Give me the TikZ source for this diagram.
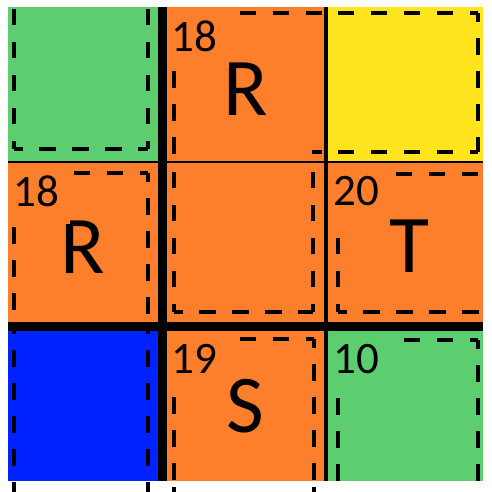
\documentclass[tikz,border=0pt]{standalone}
\usepackage{fontspec}
\setmainfont{Carlito}
\usepackage{xcolor}
\usepackage{tikz}
\usetikzlibrary{positioning}
\definecolor{cellgreen}{HTML}{5DCE6F}
\definecolor{cellorange}{HTML}{FE7F2B}
\definecolor{cellyellow}{HTML}{FFE41E}
\definecolor{cellblue}{HTML}{0022FF}
\tikzstyle{cage} = [line width=3.5pt, dash pattern=on 16.5pt off 16.5pt, dash phase=8pt]
\tikzstyle{letter} = [font=\fontsize{82pt}{82pt}\selectfont, inner sep=0pt]
\tikzstyle{total} = [font=\fontsize{45pt}{45pt}\selectfont, anchor=north west, text width=52pt, align=left, inner xsep=5pt, inner ysep=13pt, text depth=4pt]
\tikzstyle{thickline} = [line width=9pt]
\tikzstyle{thinline} = [line width=3.5pt]

\begin{document}
\begin{tikzpicture}[x=1pt, y=-1pt]
    \useasboundingbox (0,0) rectangle (492,491);
    \fill[white] (0,0) rectangle (492,491);
    % Cells
    \fill[cellgreen] (8,7.3) rectangle (162.2,161.8);
    \fill[cellorange] (162.2,7.3) rectangle (326,161.8);
    \fill[cellyellow] (326,7.3) rectangle (483,161.8);
    \fill[cellorange] (8,161.8) rectangle (483,326.2);
    \fill[cellblue] (8,326.2) rectangle (162.2,480.7);
    \fill[cellorange] (162.2,326.2) rectangle (326,480.7);
    \fill[cellgreen] (326,326.2) rectangle (483,480.7);
    
    % Cage outlines, top row
    \draw[cage] (14,149) -- (14,7.3);
    \draw[cage] (148,149) -- (148,7.3);
    \draw[cage] (14,149) -- (148,149);
    \draw[cage, dash phase=0pt] (322,13) -- (174,13);
    \draw[cage] (174,13) -- (174,160);
    \draw[line width=3.5pt] (312,152) -- (322,152);
    \draw[cage] (478,13) -- (338,13);
    \draw[cage] (478,13) -- (478,152);
    \draw[cage] (478,152) -- (338,152);
    
    % Cage outlines, middle row
    \draw[cage] (148,173) -- (14,173);
    \draw[cage, dash phase=12pt] (14,173) -- (14,322);
    \draw[cage] (148,173) -- (148,322);
    \draw[cage] (174,312) -- (174,163);
    \draw[cage] (313,312) -- (313,163);
    \draw[cage] (174,312) -- (313,312);
    \draw[cage, dash phase=0pt] (478,174) -- (338,174);
    \draw[cage] (338,312) -- (338,174);
    \draw[cage] (338,312) -- (483,312);
    
    % Cage outlines, bottom row
    \draw[cage, dash phase=14pt] (14,331) -- (14,495);
    \draw[cage, dash phase=14pt] (148,331) -- (148,495);
    \draw[cage] (314,339) -- (174,339);
    \draw[cage] (314,339) -- (314,481);
    \draw[cage] (174,339) -- (174,481);
    \draw[cage, dash phase=0pt] (174,487) -- (174,495);
    \draw[cage, dash phase=0pt] (314,487) -- (314,495);
    \draw[cage] (478,340) -- (338,340);
    \draw[cage] (478,340) -- (478,481);
    \draw[cage] (338,340) -- (338,481);
    
    % Grid lines
    \draw[thickline] (162.2,7.3) -- (162.2,480.7);
    \draw[thinline] (326,7.3) -- (326,480.7);
    \draw[line width=2.5pt] (8,161.8) -- (483,161.8);
    \draw[thickline] (8,326.2) -- (483,326.2);
    
    % Letters
    \node[letter] (rtop) at (246,89) {R};
    \node[letter] (rleft) at (83,247) {R};
    \node[letter] (tright) at (409,246) {T};
    \node[letter] (sbottom) at (245,406) {S};
    
    % Totals
    \node[total, fill=cellorange] (sumtop) at (166.7,7.3) {18};
    \node[total, fill=cellorange] (sumleft) at (8,163) {18};
    \node[total, fill=cellorange] (sumright) at (328,163) {20};
    \node[total, fill=cellorange] (sumbottom) at (166.7,330.7) {19};
    \node[total, fill=cellgreen] (sumcorner) at (328,330.7) {10};
\end{tikzpicture}
\end{document}
